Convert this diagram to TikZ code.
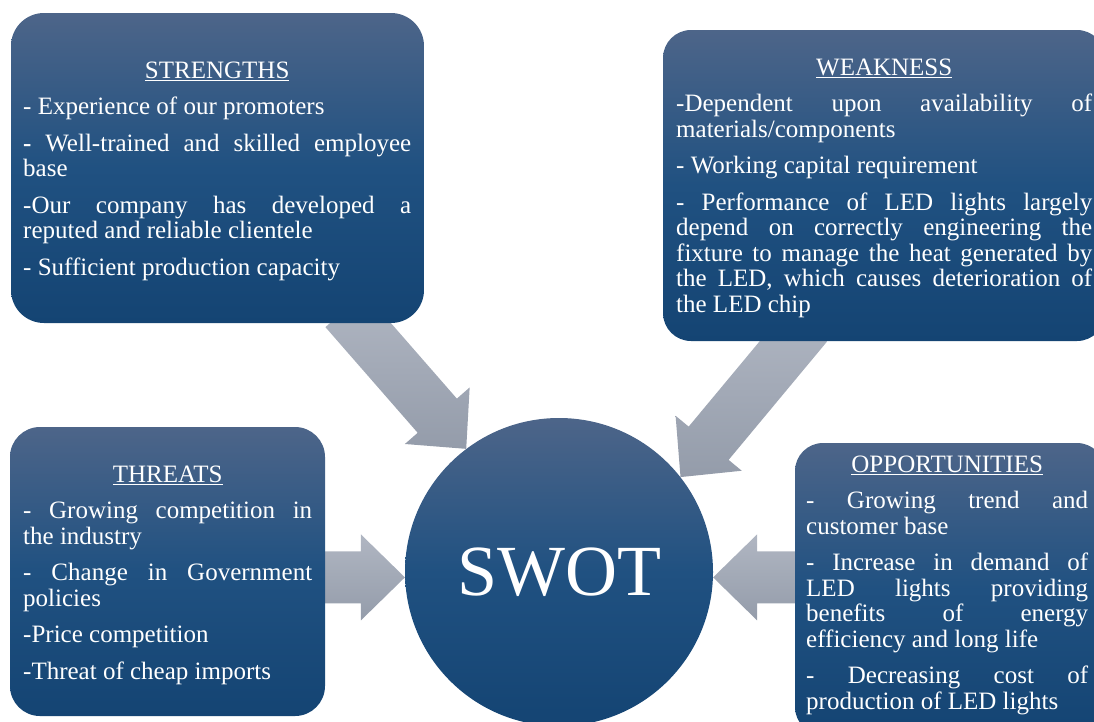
\documentclass[tikz,border=0pt]{standalone}
\usepackage{fontspec}
\setmainfont{Liberation Serif}
\usetikzlibrary{calc}
\definecolor{boxtop}{RGB}{77,101,137}
\definecolor{boxmid}{RGB}{32,81,129}
\definecolor{boxbot}{RGB}{20,68,115}
\definecolor{arrtop}{RGB}{176,182,194}
\definecolor{arrbot}{RGB}{148,156,170}
\newcommand{\hdg}[1]{\leavevmode\setbox0\hbox{#1}\rlap{\rule[-3.2pt]{\wd0}{1.1pt}}\box0}
\newcommand{\boxtext}[2]{\parbox[t]{#1}{\fontsize{25}{25.5}\selectfont\parindent=0pt\parskip=11pt\tolerance=10000\hbadness=10000\hyphenpenalty=10000\exhyphenpenalty=10000 #2}}
\newcommand{\blockarrow}[2]{%
  \coordinate (nk) at ($(#2)!44pt!(#1)$);
  \shade[arrowshade] (#2) -- ($(nk)!43pt!90:(#1)$) -- ($(nk)!26pt!90:(#1)$)
    -- ($(#1)!26pt!-90:(nk)$) -- ($(#1)!26pt!90:(nk)$)
    -- ($(nk)!26pt!-90:(#1)$) -- ($(nk)!43pt!-90:(#1)$) -- cycle;}
\tikzset{
  swotbox/.style={rectangle, rounded corners=30pt, draw=none, inner sep=0pt,
    top color=boxtop, bottom color=boxbot, middle color=boxmid},
  arrowshade/.style={draw=none, top color=arrtop, bottom color=arrbot},
  txt/.style={text=white, inner sep=0pt, anchor=base west},
}
\begin{document}
\begin{tikzpicture}[x=1pt,y=1pt]
\useasboundingbox (0,0) rectangle (1094,-721);
% centre circle
\node[circle, minimum size=308pt, inner sep=0pt, draw=none,
  top color=boxtop, bottom color=boxbot, middle color=boxmid,
  text=white, font=\fontsize{72}{80}\selectfont] (C) at (559,-572) {SWOT};
% arrow tails
\coordinate (sT) at (345,-310);
\coordinate (wT) at (807,-325);
\coordinate (tT) at ($(C.182)+(-120,0)$);
\coordinate (oT) at ($(C.-2)+(120,0)$);
\blockarrow{sT}{C.127.8}
\blockarrow{wT}{C.38.4}
\blockarrow{tT}{C.182}
\blockarrow{oT}{C.-2}
% boxes
\node[swotbox, minimum width=413pt, minimum height=310pt, rounded corners=33pt] (S) at (217.5,-168) {};
\node[swotbox, minimum width=442pt, minimum height=311pt, rounded corners=28pt] (W) at (884,-185.5) {};
\node[swotbox, minimum width=315pt, minimum height=289pt] (T) at (167.5,-571.5) {};
\node[swotbox, minimum width=310pt, minimum height=292pt, rounded corners=28pt] (O) at (950,-589) {};
% texts
\node[txt] (St) at (23,-78) {\boxtext{388pt}{{\centering\hdg{STRENGTHS}\par}
- Experience of our promoters\par
\textbf{-} Well-trained and skilled employee\linebreak base\par
-Our company has developed a\linebreak reputed and reliable clientele\par
- Sufficient production capacity}};
\node[txt] (Wt) at (676,-75) {\boxtext{416pt}{{\centering\hdg{WEAKNESS}\par}
-Dependent upon availability of\linebreak materials/components\par
- Working capital requirement\par
- Performance of LED lights largely\linebreak depend on correctly engineering the\linebreak fixture to manage the heat generated by\linebreak the LED, which causes deterioration of\linebreak the LED chip}};
\node[txt] (Tt) at (23,-482) {\boxtext{289pt}{{\centering\hdg{THREATS}\par}
- Growing competition in\linebreak the industry\par
- Change in Government\linebreak policies\par
-Price competition\par
-Threat of cheap imports}};
\node[txt] (Ot) at (806,-472) {\boxtext{282pt}{{\centering\hdg{OPPORTUNITIES}\par}
- Growing trend and\linebreak customer base\par
- Increase in demand of\linebreak LED lights providing\linebreak benefits of energy\linebreak efficiency and long life\par
- Decreasing cost of\linebreak production of LED lights}};
\end{tikzpicture}
\end{document}
